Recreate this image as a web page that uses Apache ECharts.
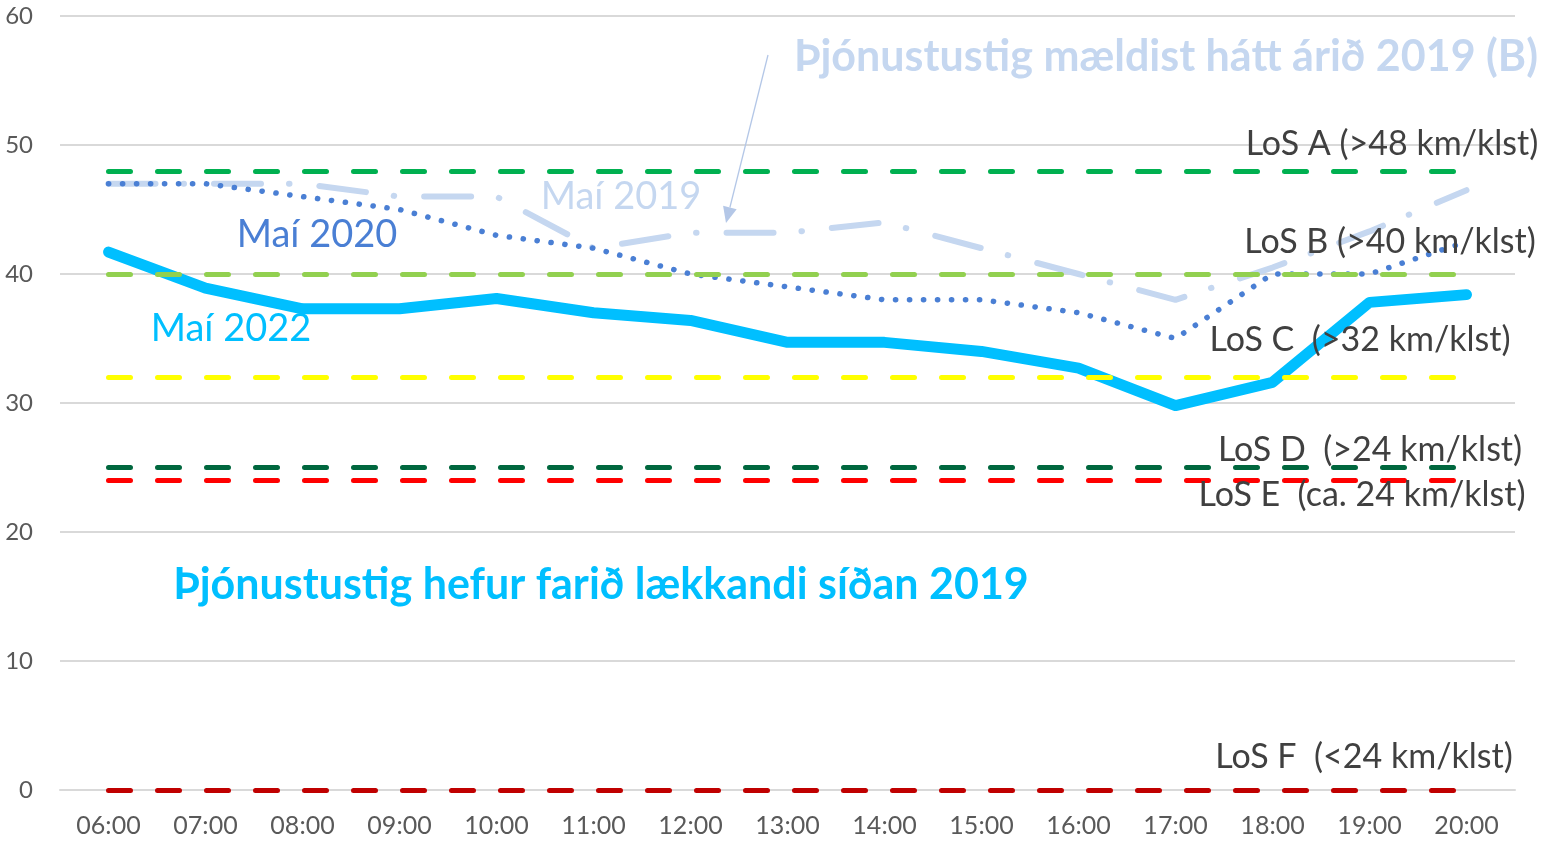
<!DOCTYPE html>
<html>
<head>
<meta charset="utf-8">
<script src="https://cdn.jsdelivr.net/npm/echarts@6/dist/echarts.min.js"></script>
<style>
html,body{margin:0;padding:0;background:#fff;}
#chart{width:1550px;height:844px;}
</style>
</head>
<body>
<div id="chart"></div>
<script>
const hours = ['06:00','07:00','08:00','09:00','10:00','11:00','12:00','13:00','14:00','15:00','16:00','17:00','18:00','19:00','20:00'];
const mai2022 = [41.7, 38.9, 37.3, 37.3, 38.1, 37.0, 36.4, 34.7, 34.7, 34.0, 32.7, 29.8, 31.6, 37.8, 38.4];
const mai2020 = [47, 47, 46, 45, 43, 42, 40, 39, 38, 38, 37, 35, 40, 40, 42.5];
const mai2019 = [47, 47, 47, 46, 46, 42, 43.2, 43.2, 44, 42, 40, 38, 40.5, 43.3, 46.5];
const losLevels = [48, 40, 32, 25, 24, 0];
const losColors = ['#00B050', '#92D050', '#FFFF00', '#00673E', '#FF0000', '#C00000'];
const losTexts = ['LoS A (>48 km/klst)', 'LoS B (>40 km/klst)', 'LoS C  (>32 km/klst)', 'LoS D  (>24 km/klst)', 'LoS E  (ca. 24 km/klst)', 'LoS F  (<24 km/klst)'];
const yTicks = [0, 10, 20, 30, 40, 50, 60];

const FONT = 'Lato, "Open Sans", sans-serif';
const chart = echarts.init(document.getElementById('chart'));

function txt(text, x, y, size, color, weight) {
  return {
    type: 'text', x: x, y: y, z: 50,
    style: { text: text, fill: color, font: (weight || 'normal') + ' ' + size + 'px ' + FONT, textAlign: 'center', textVerticalAlign: 'middle' }
  };
}

// arrow geometry
const ax0 = 768, ay0 = 55, ax1 = 726, ay1 = 223;
const dx = ax1 - ax0, dy = ay1 - ay0, L = Math.sqrt(dx*dx + dy*dy);
const ux = dx / L, uy = dy / L, nx = -uy, ny = ux;
const bcx = ax1 - 16*ux, bcy = ay1 - 16*uy;

const losLabelPos = [[1392,144],[1390,242],[1360,340],[1370,450],[1362,495],[1364,757]];

const graphics = [
  txt('Maí 2020', 317, 235, 38, '#4A7FD4'),
  txt('Maí 2019', 621, 197, 38, '#C5D7F0'),
  txt('Maí 2022', 231, 329, 38, '#00BFFF'),
  txt('Þjónustustig mældist hátt árið 2019 (B)', 1166, 57, 43, '#C5D7F0', 'bold'),
  txt('Þjónustustig hefur farið lækkandi síðan 2019', 601, 585, 43, '#00BFFF', 'bold'),
  { type: 'line', z: 50, shape: { x1: ax0, y1: ay0, x2: bcx, y2: bcy }, style: { stroke: '#B4C7E7', lineWidth: 1.3 } },
  { type: 'polygon', z: 50, shape: { points: [[ax1, ay1], [bcx + 7*nx, bcy + 7*ny], [bcx - 7*nx, bcy - 7*ny]] }, style: { fill: '#B4C7E7' } }
];
losTexts.forEach((t, i) => graphics.push(txt(t, losLabelPos[i][0], losLabelPos[i][1], 34, '#404040')));

const losSeries = {
  name: 'LoS', type: 'line', data: [], symbol: 'none', silent: true,
  markLine: {
    silent: true, symbol: 'none', animation: false,
    label: { show: false },
    data: losLevels.map((v, i) => [
      { coord: [hours[0], v], lineStyle: { color: losColors[i], width: 5, type: [22, 27], cap: 'round' } },
      { coord: [hours[hours.length - 1], v] }
    ])
  }
};

chart.setOption({
  animation: false,
  backgroundColor: '#ffffff',
  grid: { left: 60, right: 35, top: 16, bottom: 54, containLabel: false },
  xAxis: {
    type: 'category', data: hours, boundaryGap: true,
    axisLine: { show: true, lineStyle: { color: '#D9D9D9', width: 2 } },
    axisTick: { show: false },
    axisLabel: { color: '#595959', fontSize: 25, fontFamily: FONT, margin: 23 }
  },
  yAxis: {
    type: 'value', min: yTicks[0], max: yTicks[yTicks.length - 1], interval: 10,
    axisLine: { show: false }, axisTick: { show: false },
    axisLabel: { color: '#595959', fontSize: 24, fontFamily: FONT, margin: 27 },
    splitLine: { lineStyle: { color: '#D9D9D9', width: 2 } }
  },
  series: [
    { name: 'Maí 2019', type: 'line', data: mai2019, symbol: 'none',
      lineStyle: { color: '#C5D7F0', width: 6, type: [47, 28, 0.5, 30], cap: 'round', join: 'round' } },
    { name: 'Maí 2022', type: 'line', data: mai2022, symbol: 'none',
      lineStyle: { color: '#00BFFF', width: 11, cap: 'round', join: 'round' } },
    losSeries,
    { name: 'Maí 2020', type: 'line', data: mai2020, symbol: 'none', z: 3,
      lineStyle: { color: '#4A7FD4', width: 5.5, type: [0.2, 13.8], cap: 'round' } }
  ],
  graphic: graphics
});
</script>
</body>
</html>
